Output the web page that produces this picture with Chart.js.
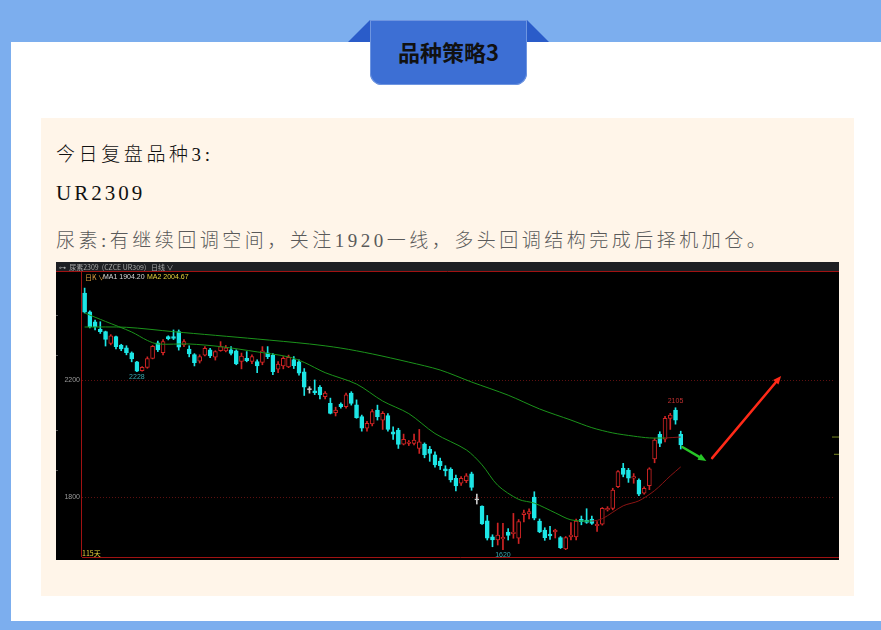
<!DOCTYPE html>
<html>
<head>
<meta charset="utf-8">
<script src="https://cdn.jsdelivr.net/npm/chart.js@4.4.0/dist/chart.umd.min.js"></script>
<style>
  html, body { margin: 0; padding: 0; }
  body {
    width: 881px; height: 630px; position: relative; overflow: hidden;
    background: #7caeee;
    font-family: "Liberation Serif", "Noto Sans CJK SC", serif;
  }
  .panel { position: absolute; left: 11px; top: 42px; width: 870px; height: 579px; background: #fff; }
  .tri-l { position: absolute; left: 348px; top: 20px; width: 0; height: 0;
    border-bottom: 22px solid #2a5cc9; border-left: 22px solid transparent; }
  .tri-r { position: absolute; left: 527px; top: 20px; width: 0; height: 0;
    border-bottom: 22px solid #2a5cc9; border-right: 22px solid transparent; }
  .tab {
    position: absolute; left: 370px; top: 20px; width: 157px; height: 65px;
    background: #3d6fd4; border-radius: 0 0 12px 12px;
    box-shadow: 0 0 0 1px #6e95e0 inset;
    font-family: "Noto Sans CJK SC", sans-serif; font-weight: 700; font-size: 22px;
    color: #111; text-align: center; line-height: 63px;
  }
  .box { position: absolute; left: 41px; top: 118px; width: 813px; height: 478px; background: #fff5e9; }
  .line { position: absolute; left: 56px; font-size: 19px; line-height: 19px; white-space: nowrap; font-weight: 300; }
  .l1 { top: 145px; color: #111; letter-spacing: 3.6px; }
  .l2 { top: 184px; color: #111; font-size: 21px; letter-spacing: 3px; }
  .l3 { top: 231px; color: #5a5a5a; letter-spacing: 3.5px; }
  #kline { position: absolute; left: 56px; top: 262px; }
</style>
</head>
<body>
<div class="panel"></div>
<div class="tri-l"></div>
<div class="tri-r"></div>
<div class="tab">品种策略3</div>
<div class="box"></div>
<div class="line l1">今日复盘品种3:</div>
<div class="line l2">UR2309</div>
<div class="line l3">尿素:有继续回调空间，关注1920一线，多头回调结构完成后择机加仓。</div>
<canvas id="kline" width="783" height="298"></canvas>

<script>
// daily candles, UR2309
const openPx = [2497, 2433, 2399, 2373, 2365, 2325, 2348, 2319, 2310, 2293,
  2262, 2232, 2243, 2274, 2327, 2293, 2348, 2348, 2365, 2320,
  2306, 2287, 2264, 2285, 2303, 2278, 2300, 2299, 2303, 2300,
  2263, 2274, 2263, 2263, 2260, 2293, 2285, 2237, 2248, 2245,
  2270, 2262, 2228, 2167, 2163, 2175, 2143, 2120, 2088, 2118,
  2109, 2155, 2115, 2075, 2035, 2050, 2097, 2063, 2078, 2023,
  2029, 1981, 1983, 1983, 1966, 1981, 1963, 1944, 1923, 1896,
  1895, 1864, 1847, 1856, 1879, 1790, 1769, 1719, 1664, 1653,
  1657, 1680, 1675, 1659, 1740, 1742, 1800, 1718, 1687, 1673,
  1681, 1661, 1623, 1664, 1664, 1724, 1721, 1725, 1702, 1707,
  1756, 1761, 1835, 1898, 1892, 1864, 1858, 1813, 1839, 1930,
  2014, 1998, 2069, 2097, 2014];
const highPx = [2514, 2436, 2405, 2399, 2367, 2355, 2350, 2322, 2317, 2296,
  2264, 2246, 2279, 2318, 2333, 2338, 2351, 2371, 2371, 2338,
  2317, 2290, 2286, 2314, 2308, 2300, 2331, 2318, 2314, 2303,
  2292, 2297, 2286, 2269, 2314, 2314, 2290, 2263, 2280, 2285,
  2280, 2269, 2239, 2177, 2200, 2181, 2160, 2138, 2107, 2122,
  2155, 2160, 2132, 2080, 2059, 2099, 2114, 2092, 2085, 2040,
  2035, 2015, 1993, 2015, 2031, 1985, 1973, 1954, 1933, 1907,
  1900, 1875, 1870, 1880, 1885, 1810, 1770, 1737, 1671, 1711,
  1710, 1692, 1744, 1723, 1755, 1760, 1818, 1725, 1695, 1700,
  1690, 1665, 1665, 1713, 1725, 1735, 1760, 1735, 1716, 1764,
  1767, 1830, 1890, 1915, 1898, 1880, 1862, 1835, 1900, 2000,
  2023, 2076, 2086, 2105, 2025];
const lowPx = [2429, 2378, 2371, 2359, 2316, 2320, 2306, 2300, 2286, 2262,
  2228, 2230, 2240, 2272, 2297, 2286, 2337, 2338, 2302, 2314,
  2279, 2248, 2258, 2282, 2276, 2268, 2298, 2296, 2286, 2252,
  2238, 2262, 2256, 2225, 2252, 2273, 2218, 2225, 2238, 2242,
  2239, 2216, 2147, 2155, 2150, 2135, 2135, 2084, 2077, 2104,
  2104, 2114, 2069, 2025, 2025, 2043, 2063, 2031, 2025, 1997,
  1966, 1978, 1976, 1978, 1949, 1934, 1922, 1902, 1894, 1872,
  1851, 1821, 1840, 1849, 1823, 1776, 1706, 1653, 1630, 1636,
  1620, 1653, 1659, 1641, 1715, 1725, 1722, 1678, 1652, 1655,
  1660, 1624, 1620, 1653, 1653, 1705, 1710, 1706, 1682, 1704,
  1752, 1756, 1832, 1869, 1850, 1847, 1805, 1810, 1825, 1917,
  1972, 1988, 2031, 2049, 1964];
const closePx = [2432, 2382, 2382, 2365, 2339, 2351, 2314, 2306, 2293, 2272,
  2230, 2243, 2273, 2315, 2303, 2331, 2341, 2342, 2312, 2331,
  2289, 2259, 2280, 2308, 2282, 2297, 2314, 2310, 2291, 2255,
  2282, 2266, 2280, 2248, 2300, 2280, 2228, 2254, 2274, 2277,
  2249, 2223, 2175, 2167, 2157, 2149, 2155, 2086, 2097, 2109,
  2149, 2120, 2071, 2035, 2052, 2092, 2075, 2086, 2031, 2015,
  1980, 1997, 1988, 1995, 1989, 1944, 1949, 1910, 1907, 1889,
  1858, 1838, 1864, 1872, 1833, 1790, 1708, 1659, 1653, 1670,
  1662, 1669, 1680, 1716, 1746, 1750, 1728, 1681, 1661, 1667,
  1687, 1627, 1661, 1670, 1718, 1716, 1713, 1710, 1707, 1761,
  1761, 1824, 1887, 1877, 1864, 1870, 1810, 1830, 1896, 1995,
  1983, 2069, 2080, 2063, 1978];

// moving averages, read at a few days along each line
const ma1Days = [1, 5, 10, 13, 15, 21, 27, 34, 40, 43, 47, 53, 58, 63, 68, 74, 77, 80, 84, 87, 91, 94, 98, 100, 104, 107, 110, 113, 115];
const ma1Vals = [2429, 2400, 2364, 2335, 2323, 2323, 2314, 2296, 2279, 2260, 2225, 2186, 2128, 2085, 2017, 1961, 1910, 1840, 1792, 1779, 1746, 1722, 1718, 1726, 1770, 1787, 1822, 1872, 1903];
const ma2Days = [1, 9, 18, 34, 44, 50, 56, 63, 69, 75, 82, 88, 94, 98, 102, 106, 109, 112, 115];
const ma2Vals = [2381, 2380, 2365, 2340, 2323, 2309, 2289, 2261, 2234, 2193, 2148, 2101, 2063, 2037, 2019, 2008, 2002, 2002, 2005];

const yTicks = [2200, 1800];
const markedLows = [11, 81];
const markedHighs = [114];
const ma1Last = '1904.20';
const ma2Last = '2004.67';

const slots = 144; // the terminal keeps empty days on the right
const labels = Array.from({ length: slots }, (_, i) => String(i + 1));

const UP = '#d02424', DOWN = '#1de6e6', FLAT = '#c8c8c8';
const candleColor = openPx.map((o, i) => closePx[i] > o ? UP : (closePx[i] < o ? DOWN : FLAT));

function maPoints(days, vals) {
  return days.map((d, k) => ({ x: String(d), y: vals[k] }));
}

// rising = dark red, falling = green
const maColor = ctx => ctx.p1.parsed.y > ctx.p0.parsed.y ? '#8c1414' : '#1b931b';

// arrows drawn by hand on the screenshot, in (day index, price)
const arrows = [
  { from: [114.3, 1971], to: [118.9, 1923], color: '#27c627', width: 2.5 },
  { from: [120.0, 1933], to: [133.2, 2214], color: '#ff2a18', width: 2.5 }
];

const decor = {
  id: 'decor',
  beforeDraw(chart) {
    const c = chart.ctx, W = chart.width, H = chart.height, a = chart.chartArea;
    c.save();
    c.fillStyle = '#000';
    c.fillRect(0, 0, W, H);
    // title bar
    c.fillStyle = '#1e1f23';
    c.fillRect(0, 0, W, 9);
    c.font = '7px "Noto Sans CJK SC", sans-serif';
    c.fillStyle = '#a8a8a8';
    c.textBaseline = 'middle';
    c.fillText('⊶  尿素2309  (CZCE UR309)   日线 ∨', 3, 5);
    // frame
    c.strokeStyle = '#a01212';
    c.lineWidth = 1;
    c.beginPath();
    c.moveTo(0, a.top - 0.5); c.lineTo(W, a.top - 0.5);
    c.moveTo(a.left - 0.5, a.top); c.lineTo(a.left - 0.5, a.bottom);
    c.moveTo(a.left, a.bottom + 0.5); c.lineTo(W, a.bottom + 0.5);
    c.stroke();
    // left side ticks
    c.fillStyle = '#555';
    [53, 93, 168, 208].forEach(y => c.fillRect(0, y, 2, 1));
    c.restore();
  },
  beforeDatasetsDraw(chart) {
    const c = chart.ctx, a = chart.chartArea, y = chart.scales.y;
    c.save();
    c.strokeStyle = '#5e1010';
    c.setLineDash([1, 2]);
    c.font = '7px "Liberation Sans", sans-serif';
    c.fillStyle = '#9a9a9a';
    c.textAlign = 'right';
    c.textBaseline = 'middle';
    yTicks.forEach(v => {
      const py = Math.round(y.getPixelForValue(v)) + 0.5;
      c.beginPath();
      c.moveTo(a.left, py); c.lineTo(a.right, py);
      c.stroke();
      c.fillText(String(v), a.left - 2, py);
    });
    c.restore();
  },
  afterDatasetsDraw(chart) {
    const c = chart.ctx, a = chart.chartArea, x = chart.scales.x, y = chart.scales.y;
    c.save();
    c.font = '7px "Liberation Sans", sans-serif';
    c.textAlign = 'center';
    markedLows.forEach(d => {
      c.fillStyle = '#36a9b0';
      c.textBaseline = 'top';
      c.fillText(String(lowPx[d - 1]), x.getPixelForValue(d - 1), y.getPixelForValue(lowPx[d - 1]) + 2);
    });
    markedHighs.forEach(d => {
      c.fillStyle = '#c03030';
      c.textBaseline = 'bottom';
      c.fillText(String(highPx[d - 1]), x.getPixelForValue(d - 1), y.getPixelForValue(highPx[d - 1]) - 3);
    });
    // legend row
    c.textAlign = 'left';
    c.textBaseline = 'middle';
    c.font = '7px "Noto Sans CJK SC", sans-serif';
    c.fillStyle = '#e0a040';
    c.fillText('日K ∨', a.left + 3, a.top + 5);
    c.font = '7px "Liberation Sans", sans-serif';
    c.fillStyle = '#d8d8d8';
    c.fillText('MA1 ' + ma1Last, a.left + 21, a.top + 5);
    c.fillStyle = '#e6d23a';
    c.fillText('MA2 ' + ma2Last, a.left + 65, a.top + 5);
    c.font = '7px "Noto Sans CJK SC", sans-serif';
    c.fillStyle = '#e6d23a';
    c.textBaseline = 'bottom';
    c.fillText(openPx.length + '天', a.left, a.bottom);
    // hand drawn arrows
    arrows.forEach(ar => {
      const x0 = x.getPixelForValue(ar.from[0]), y0 = y.getPixelForValue(ar.from[1]);
      const x1 = x.getPixelForValue(ar.to[0]), y1 = y.getPixelForValue(ar.to[1]);
      const ang = Math.atan2(y1 - y0, x1 - x0);
      const hl = 9;
      c.strokeStyle = ar.color;
      c.fillStyle = ar.color;
      c.lineWidth = ar.width;
      c.lineCap = 'round';
      c.beginPath();
      c.moveTo(x0, y0);
      c.lineTo(x1 - Math.cos(ang) * hl * 0.7, y1 - Math.sin(ang) * hl * 0.7);
      c.stroke();
      c.beginPath();
      c.moveTo(x1, y1);
      c.lineTo(x1 - hl * Math.cos(ang - 0.4), y1 - hl * Math.sin(ang - 0.4));
      c.lineTo(x1 - hl * Math.cos(ang + 0.4), y1 - hl * Math.sin(ang + 0.4));
      c.closePath();
      c.fill();
    });
    // price pointers on the right edge
    c.fillStyle = '#7a8a20';
    c.fillRect(a.right - 3, y.getPixelForValue(2005) - 0.5, 7, 1);
    c.fillRect(a.right - 1, y.getPixelForValue(1946) - 0.5, 5, 1);
    c.restore();
  }
};

new Chart(document.getElementById('kline'), {
  type: 'bar',
  data: {
    labels: labels,
    datasets: [
      {
        type: 'line', label: 'MA1', data: maPoints(ma1Days, ma1Vals),
        pointRadius: 0, borderWidth: 1, tension: 0.3,
        borderColor: '#1b931b', segment: { borderColor: maColor }, order: 0
      },
      {
        type: 'line', label: 'MA2', data: maPoints(ma2Days, ma2Vals),
        pointRadius: 0, borderWidth: 1, tension: 0.3,
        borderColor: '#1b931b', segment: { borderColor: maColor }, order: 0
      },
      {
        label: 'body', data: openPx.map((o, i) => [o, closePx[i]]),
        backgroundColor: openPx.map((o, i) => closePx[i] > o ? '#000' : candleColor[i]),
        borderColor: candleColor, borderWidth: 1, borderSkipped: false,
        barThickness: 4, minBarLength: 1, grouped: false, order: 1
      },
      {
        label: 'wick', data: lowPx.map((l, i) => [l, highPx[i]]),
        backgroundColor: candleColor, barThickness: 1, grouped: false, order: 2
      }
    ]
  },
  options: {
    responsive: false,
    animation: false,
    devicePixelRatio: 1,
    layout: { padding: { left: 26, top: 10, right: 4, bottom: 3 } },
    plugins: { legend: { display: false }, tooltip: { enabled: false } },
    scales: {
      x: { type: 'category', display: false, offset: true, grid: { display: false } },
      y: { display: false, min: 1595, max: 2569 }
    }
  },
  plugins: [decor]
});
</script>
</body>
</html>
